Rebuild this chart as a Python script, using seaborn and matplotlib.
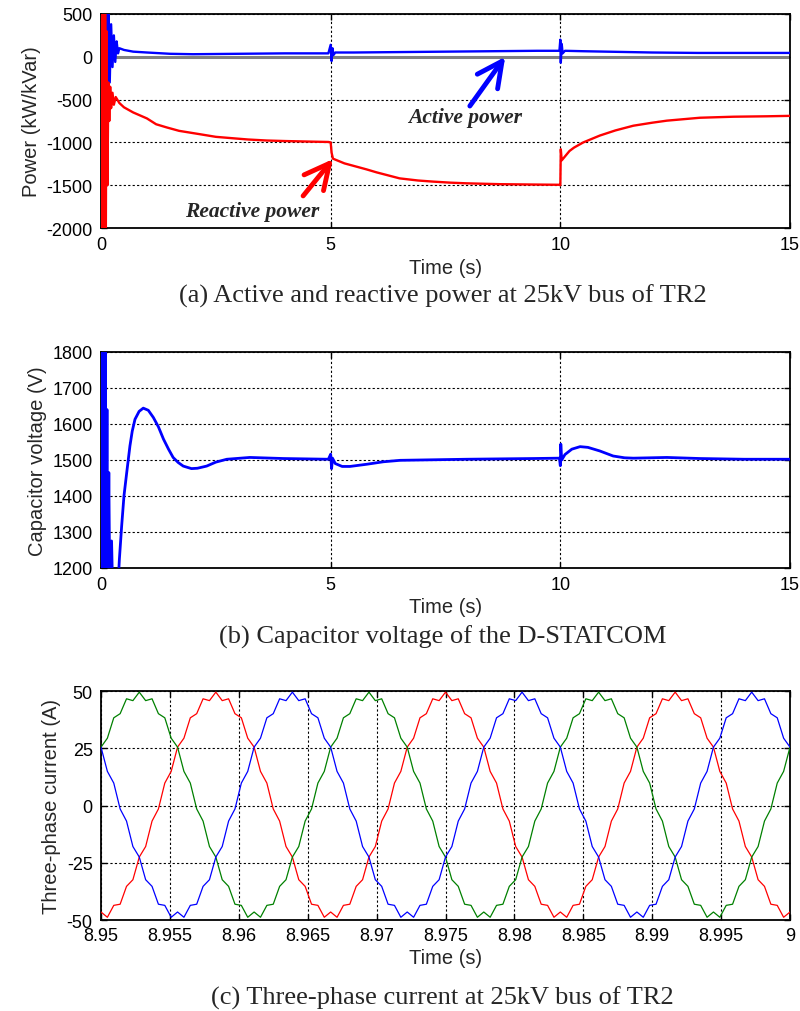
import numpy as np
import matplotlib
matplotlib.use("Agg")
import matplotlib.pyplot as plt
import seaborn as sns

# ---- (a) active / reactive power at 25kV bus (kW / kVar) ----
t_active = [0, 0.01, 0.02, 0.035, 0.05, 0.07, 0.09, 0.11, 0.13, 0.16,
            0.19, 0.22, 0.25, 0.28, 0.31, 0.34, 0.37, 0.4, 0.5, 0.7,
            1.0, 1.5, 2.0, 3.0, 4.0, 4.95, 5.0, 5.02, 5.04, 5.06,
            5.1, 5.5, 6.5, 7.5, 8.5, 9.5, 9.98, 10.0, 10.01, 10.03,
            10.05, 10.1, 10.5, 11.0, 12.0, 13.0, 14.0, 15.0]
p_active = [0, 700, -2200, 700, -2200, 600, -1050, 600, -1400, 550,
            -300, 380, -120, 250, -60, 180, 40, 100, 80, 60,
            50, 35, 30, 35, 40, 40, 140, -50, 100, 20,
            50, 50, 55, 60, 65, 70, 70, 200, -70, 150,
            40, 70, 65, 60, 50, 45, 45, 45]

t_reactive = [0, 0.015, 0.03, 0.045, 0.06, 0.075, 0.09, 0.105, 0.12, 0.14,
              0.16, 0.18, 0.2, 0.22, 0.25, 0.28, 0.32, 0.4, 0.5, 0.7,
              1.0, 1.2, 1.43, 1.7, 2.16, 2.5, 2.88, 3.2, 3.61, 4.0,
              4.5, 4.95, 5.0, 5.02, 5.05, 5.3, 5.78, 6.0, 6.5, 6.9,
              7.23, 7.6, 7.96, 8.69, 9.4, 9.98, 10.0, 10.01, 10.03, 10.2,
              10.3, 10.5, 10.86, 11.2, 11.59, 12.0, 12.32, 13.04, 13.77, 14.5,
              15.0]
q_reactive = [0, -2300, 700, -2300, 700, -2300, 600, -2100, 300, -1500,
              -300, -750, -350, -600, -420, -560, -470, -540, -590, -650,
              -720, -788, -825, -865, -905, -935, -952, -966, -978, -984,
              -990, -995, -1000, -1120, -1190, -1245, -1315, -1350, -1420, -1445,
              -1458, -1470, -1478, -1488, -1492, -1495, -1500, -1080, -1210, -1100,
              -1060, -1000, -920, -860, -805, -770, -746, -712, -700, -695,
              -690]

# ---- (b) D-STATCOM capacitor voltage (V) ----
t_vdc = [0, 0.015, 0.03, 0.045, 0.06, 0.075, 0.09, 0.105, 0.13, 0.15,
         0.17, 0.19, 0.23, 0.26, 0.33, 0.4, 0.45, 0.5, 0.56, 0.63,
         0.68, 0.74, 0.83, 0.92, 1.03, 1.14, 1.25, 1.36, 1.47, 1.57,
         1.68, 1.79, 1.97, 2.1, 2.3, 2.5, 2.74, 3.24, 3.97, 4.95,
         5.0, 5.02, 5.04, 5.1, 5.25, 5.42, 5.78, 6.15, 6.51, 7.96,
         9.41, 9.98, 10.0, 10.01, 10.03, 10.1, 10.25, 10.43, 10.6, 10.86,
         11.15, 11.4, 11.59, 12.32, 13.04, 14.0, 15.0]
v_dc = [1900, 1100, 1900, 1100, 1900, 1100, 1900, 1100, 1640, 1150,
        1465, 1150, 1275, 1100, 1050, 1224, 1317, 1400, 1465, 1539,
        1580, 1613, 1635, 1644, 1638, 1618, 1592, 1558, 1530, 1507,
        1493, 1483, 1476, 1477, 1483, 1494, 1502, 1507, 1504, 1502,
        1516, 1476, 1505, 1490, 1482, 1482, 1488, 1495, 1499, 1502,
        1504, 1505, 1484, 1544, 1500, 1515, 1530, 1537, 1535, 1525,
        1511, 1506, 1505, 1507, 1504, 1502, 1502]

# ---- (c) three-phase current, 8.95 s .. 9 s (A) ----
i_red = [-46.5, -48.8, -43.6, -43.1, -35.3, -32.4, -22.5, -17.9, -6.8, -1.5,
         9.8, 14.9, 25.5, 29.4, 38.3, 40.1, 46.6, 45.8,
         49.5, 45.8, 46.6, 40.1, 38.3, 29.4, 25.5, 14.9, 9.8, -1.5,
         -6.8, -17.9, -22.5, -32.4, -35.3, -43.1, -43.6, -48.8, -46.5, -48.8,
         -43.6, -43.1, -35.3, -32.4, -22.5, -17.9, -6.8, -1.5, 9.8, 14.9,
         25.5, 29.4, 38.3, 40.1, 46.6, 45.8,
         49.5, 45.8, 46.6, 40.1, 38.3, 29.4, 25.5, 14.9, 9.8, -1.5,
         -6.8, -17.9, -22.5, -32.4, -35.3, -43.1, -43.6, -48.8, -46.5, -48.8,
         -43.6, -43.1, -35.3, -32.4, -22.5, -17.9, -6.8, -1.5, 9.8, 14.9,
         25.5, 29.4, 38.3, 40.1, 46.6, 45.8,
         49.5, 45.8, 46.6, 40.1, 38.3, 29.4, 25.5, 14.9, 9.8, -1.5,
         -6.8, -17.9, -22.5, -32.4, -35.3, -43.1, -43.6, -48.8, -46.5]
i_blue = [25.5, 14.9, 9.8, -1.5, -6.8, -17.9, -22.5, -32.4, -35.3, -43.1,
          -43.6, -48.8, -46.5, -48.8, -43.6, -43.1, -35.3, -32.4, -22.5, -17.9,
          -6.8, -1.5, 9.8, 14.9, 25.5, 29.4, 38.3, 40.1, 46.6, 45.8,
          49.5, 45.8, 46.6, 40.1, 38.3, 29.4, 25.5, 14.9, 9.8, -1.5,
          -6.8, -17.9, -22.5, -32.4, -35.3, -43.1, -43.6, -48.8, -46.5, -48.8,
          -43.6, -43.1, -35.3, -32.4, -22.5, -17.9, -6.8, -1.5, 9.8, 14.9,
          25.5, 29.4, 38.3, 40.1, 46.6, 45.8,
          49.5, 45.8, 46.6, 40.1, 38.3, 29.4, 25.5, 14.9, 9.8, -1.5,
          -6.8, -17.9, -22.5, -32.4, -35.3, -43.1, -43.6, -48.8, -46.5, -48.8,
          -43.6, -43.1, -35.3, -32.4, -22.5, -17.9, -6.8, -1.5, 9.8, 14.9,
          25.5, 29.4, 38.3, 40.1, 46.6, 45.8,
          49.5, 45.8, 46.6, 40.1, 38.3, 29.4, 25.5]
i_green = [25.5, 29.4, 38.3, 40.1, 46.6, 45.8,
           49.5, 45.8, 46.6, 40.1, 38.3, 29.4, 25.5, 14.9, 9.8, -1.5,
           -6.8, -17.9, -22.5, -32.4, -35.3, -43.1, -43.6, -48.8, -46.5, -48.8,
           -43.6, -43.1, -35.3, -32.4, -22.5, -17.9, -6.8, -1.5, 9.8, 14.9,
           25.5, 29.4, 38.3, 40.1, 46.6, 45.8,
           49.5, 45.8, 46.6, 40.1, 38.3, 29.4, 25.5, 14.9, 9.8, -1.5,
           -6.8, -17.9, -22.5, -32.4, -35.3, -43.1, -43.6, -48.8, -46.5, -48.8,
           -43.6, -43.1, -35.3, -32.4, -22.5, -17.9, -6.8, -1.5, 9.8, 14.9,
           25.5, 29.4, 38.3, 40.1, 46.6, 45.8,
           49.5, 45.8, 46.6, 40.1, 38.3, 29.4, 25.5, 14.9, 9.8, -1.5,
           -6.8, -17.9, -22.5, -32.4, -35.3, -43.1, -43.6, -48.8, -46.5, -48.8,
           -43.6, -43.1, -35.3, -32.4, -22.5, -17.9, -6.8, -1.5, 9.8, 14.9,
           25.5]
t_current = np.linspace(8.95, 9.0, len(i_red))

xticks_power = [0, 5, 10, 15]
yticks_power = [-2000, -1500, -1000, -500, 0, 500]
yticks_vdc = [1200, 1300, 1400, 1500, 1600, 1700, 1800]
yticks_current = [-50, -25, 0, 25, 50]
xticks_current = [8.95, 8.955, 8.96, 8.965, 8.97, 8.975, 8.98, 8.985, 8.99, 8.995, 9.0]
xticklabels_current = ["8.95", "8.955", "8.96", "8.965", "8.97", "8.975",
                       "8.98", "8.985", "8.99", "8.995", "9"]

captions = ["(a) Active and reactive power at 25kV bus of TR2",
            "(b) Capacitor voltage of the D-STATCOM",
            "(c) Three-phase current at 25kV bus of TR2"]

sns.set_style("ticks")
plt.rcParams["font.family"] = ["Liberation Sans", "DejaVu Sans"]
plt.rcParams["axes.linewidth"] = 1.3
plt.rcParams["axes.unicode_minus"] = False

fig = plt.figure(figsize=(8, 10.12), dpi=100)
ax_a = fig.add_axes([0.12625, 0.7737, 0.86125, 0.2115])
ax_b = fig.add_axes([0.12625, 0.4378, 0.86125, 0.2134])
ax_c = fig.add_axes([0.12625, 0.0899, 0.86125, 0.2263])

GRID = dict(color="black", linestyle=(0, (2, 2)), linewidth=0.8)


def style_axes(ax):
    ax.grid(True, **GRID)
    ax.tick_params(direction="in", top=True, right=True, labelsize=13,
                   length=4, width=1, pad=6, colors="black")
    for s in ax.spines.values():
        s.set_visible(True)
        s.set_color("black")
        s.set_linewidth(1.3)
    ax.set_xlabel("Time (s)", fontsize=14.5, labelpad=3)


# (a)
ax_a.axhline(0, color="#808080", lw=2.2, zorder=1.5)
sns.lineplot(x=t_active, y=p_active, ax=ax_a, color="blue", lw=1.7, zorder=3)
sns.lineplot(x=t_reactive, y=q_reactive, ax=ax_a, color="red", lw=1.7, zorder=3)
ax_a.set_xlim(0, 15)
ax_a.set_ylim(-2000, 500)
ax_a.set_xticks(xticks_power)
ax_a.set_yticks(yticks_power)
ax_a.set_ylabel("Power (kW/kVar)", fontsize=14.5, labelpad=4)
style_axes(ax_a)

LABEL = dict(fontsize=15.5, fontweight="bold", fontstyle="italic",
             family=["Liberation Serif"], ha="center", va="center", zorder=5)
ax_a.text(7.93, -700, "Active power", **LABEL)
ax_a.text(3.29, -1800, "Reactive power", **LABEL)
ax_a.annotate("", xy=(8.8, 0), xytext=(8.03, -575),
              arrowprops=dict(arrowstyle="->,head_length=0.9,head_width=0.45",
                              color="blue", lw=3.5, mutation_scale=20,
                              shrinkA=0, shrinkB=0))
ax_a.annotate("", xy=(5.05, -1195), xytext=(4.4, -1625),
              arrowprops=dict(arrowstyle="->,head_length=0.9,head_width=0.45",
                              color="red", lw=3.5, mutation_scale=20,
                              shrinkA=0, shrinkB=0))

# (b)
sns.lineplot(x=t_vdc, y=v_dc, ax=ax_b, color="blue", lw=2.0, zorder=3)
ax_b.set_xlim(0, 15)
ax_b.set_ylim(1200, 1800)
ax_b.set_xticks(xticks_power)
ax_b.set_yticks(yticks_vdc)
ax_b.set_ylabel("Capacitor voltage (V)", fontsize=14.5, labelpad=4)
style_axes(ax_b)

# (c)
sns.lineplot(x=t_current, y=i_red, ax=ax_c, color="red", lw=0.9, zorder=3)
sns.lineplot(x=t_current, y=i_green, ax=ax_c, color="green", lw=0.9, zorder=3)
sns.lineplot(x=t_current, y=i_blue, ax=ax_c, color="blue", lw=0.9, zorder=3)
ax_c.set_xlim(8.95, 9.0)
ax_c.set_ylim(-50, 50)
ax_c.set_xticks(xticks_current)
ax_c.set_xticklabels(xticklabels_current)
ax_c.set_yticks(yticks_current)
ax_c.set_ylabel("Three-phase current (A)", fontsize=14.5, labelpad=4)
style_axes(ax_c)
ax_c.tick_params(axis="x", pad=5)

for y, txt in zip([0.7075, 0.3706, 0.0138], captions):
    fig.text(0.553, y, txt, ha="center", va="center", fontsize=19,
             family=["Liberation Serif"])

fig.savefig("out.png", dpi=100)
